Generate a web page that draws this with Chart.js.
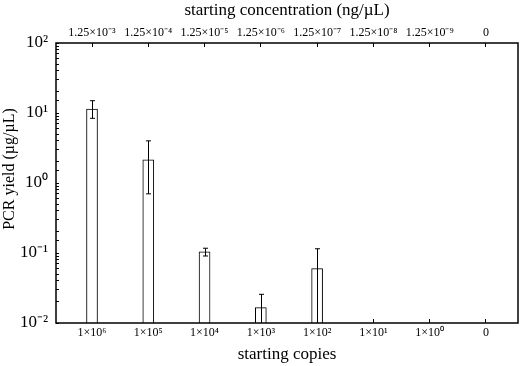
<!DOCTYPE html>
<html lang="en">
<head>
    <meta charset="UTF-8">
    <title>PCR yield vs starting copies</title>
    <script src="https://cdn.jsdelivr.net/npm/chart.js"></script>
    <style>
        body {
            margin: 0;
            padding: 0;
            background: #ffffff;
        }
        #wrap {
            width: 520px;
            height: 366px;
        }
    </style>
</head>
<body>
    <div id="wrap"><canvas id="pcr-chart"></canvas></div>
    <script>
        // bottom axis: starting copies, top axis: matching concentration
        const copiesLabels = ["1×10⁶", "1×10⁵", "1×10⁴", "1×10³", "1×10²", "1×10¹", "1×10⁰", "0"];
        const concLabels = ["1.25×10⁻³", "1.25×10⁻⁴", "1.25×10⁻⁵", "1.25×10⁻⁶", "1.25×10⁻⁷", "1.25×10⁻⁸", "1.25×10⁻⁹", "0"];

        // PCR yield (µg/µL), with error bar ends
        const yieldMean = [11.4, 2.15, 0.104, 0.0166, 0.0597, null, null, null];
        const errHigh = [15.0, 4.0, 0.117, 0.0257, 0.115, null, null, null];
        const errLow = [8.4, 0.70, 0.0906, 0.005, 0.005, null, null, null];

        // log axis decades
        const yTickValues = [0.01, 0.1, 1, 10, 100];
        const yTickLabels = ["10⁻²", "10⁻¹", "10⁰", "10¹", "10²"];

        const serif = "'Liberation Serif', 'Times New Roman', serif";

        // error bars drawn on top of the bars
        const errorBars = {
            id: "errorBars",
            afterDatasetsDraw(chart) {
                const ctx = chart.ctx;
                const area = chart.chartArea;
                const x = chart.scales.x;
                const y = chart.scales.y;
                ctx.save();
                ctx.strokeStyle = "#000";
                ctx.lineWidth = 1;
                errHigh.forEach((hi, i) => {
                    if (hi == null) return;
                    const px = Math.round(x.getPixelForValue(i)) + 0.5;
                    const top = y.getPixelForValue(hi);
                    const bot = Math.min(y.getPixelForValue(errLow[i]), area.bottom);
                    ctx.beginPath();
                    ctx.moveTo(px, top);
                    ctx.lineTo(px, bot);
                    ctx.moveTo(px - 2.5, top);
                    ctx.lineTo(px + 2.5, top);
                    if (bot < area.bottom) {
                        ctx.moveTo(px - 2.5, bot);
                        ctx.lineTo(px + 2.5, bot);
                    }
                    ctx.stroke();
                });
                ctx.restore();
            }
        };

        // box around the plot area
        const frame = {
            id: "frame",
            afterDraw(chart) {
                const a = chart.chartArea;
                const ctx = chart.ctx;
                ctx.save();
                ctx.strokeStyle = "#000";
                ctx.lineWidth = 1.5;
                ctx.strokeRect(a.left, a.top, a.right - a.left, a.bottom - a.top);
                ctx.restore();
            }
        };

        const xMin = -0.64;
        const xMax = 7.57;

        new Chart(document.getElementById("pcr-chart").getContext("2d"), {
            type: "bar",
            data: {
                datasets: [{
                    label: "PCR yield",
                    data: yieldMean.map((v, i) => ({ x: i, y: v })),
                    backgroundColor: "#ffffff",
                    borderColor: "#000000",
                    borderWidth: 1,
                    barThickness: 11,
                    xAxisID: "x",
                    yAxisID: "y"
                }]
            },
            options: {
                responsive: true,
                maintainAspectRatio: false,
                animation: false,
                layout: { padding: { left: 0, right: 2, top: 0, bottom: 0 } },
                plugins: {
                    legend: { display: false },
                    tooltip: { enabled: false }
                },
                scales: {
                    x: {
                        type: "linear",
                        position: "bottom",
                        offset: false,
                        min: xMin,
                        max: xMax,
                        afterBuildTicks: s => { s.ticks = copiesLabels.map((_, i) => ({ value: i })); },
                        afterFit: s => { s.height = 43; },
                        grid: { offset: false, drawOnChartArea: false, tickLength: -4, tickColor: "#000" },
                        border: { display: false },
                        ticks: {
                            autoSkip: false,
                            maxRotation: 0,
                            padding: 7,
                            color: "#000",
                            font: { family: serif, size: 12 },
                            callback: v => copiesLabels[v]
                        },
                        title: {
                            display: true,
                            text: "starting copies",
                            color: "#000",
                            font: { family: serif, size: 17 },
                            padding: { top: 0, bottom: 1 }
                        }
                    },
                    x2: {
                        type: "linear",
                        position: "top",
                        offset: false,
                        min: xMin,
                        max: xMax,
                        afterBuildTicks: s => { s.ticks = concLabels.map((_, i) => ({ value: i })); },
                        afterFit: s => { s.height = 43; },
                        grid: { offset: false, drawOnChartArea: false, tickLength: -4, tickColor: "#000" },
                        border: { display: false },
                        ticks: {
                            autoSkip: false,
                            maxRotation: 0,
                            padding: 7,
                            color: "#000",
                            font: { family: serif, size: 12 },
                            callback: v => concLabels[v]
                        },
                        title: {
                            display: true,
                            text: "starting concentration (ng/µL)",
                            color: "#000",
                            font: { family: serif, size: 17 },
                            padding: { top: 0, bottom: 0 }
                        }
                    },
                    y: {
                        type: "logarithmic",
                        position: "left",
                        min: 0.01,
                        max: 100,
                        afterFit: s => { s.width = 56; },
                        grid: { drawOnChartArea: false, tickLength: -3, tickColor: "#000" },
                        border: { display: false },
                        ticks: {
                            autoSkip: false,
                            padding: 11,
                            color: "#000",
                            font: { family: serif, size: 17 },
                            callback: v => {
                                const k = yTickValues.findIndex(t => Math.abs(Math.log10(t) - Math.log10(v)) < 1e-6);
                                return k >= 0 ? yTickLabels[k] : "";
                            }
                        },
                        title: {
                            display: true,
                            text: "\u00a0\u00a0\u00a0\u00a0\u00a0\u00a0\u00a0PCR yield (µg/µL)",
                            color: "#000",
                            font: { family: serif, size: 16 },
                            padding: { top: 0, bottom: 0 }
                        }
                    }
                }
            },
            plugins: [errorBars, frame]
        });
    </script>
</body>
</html>
